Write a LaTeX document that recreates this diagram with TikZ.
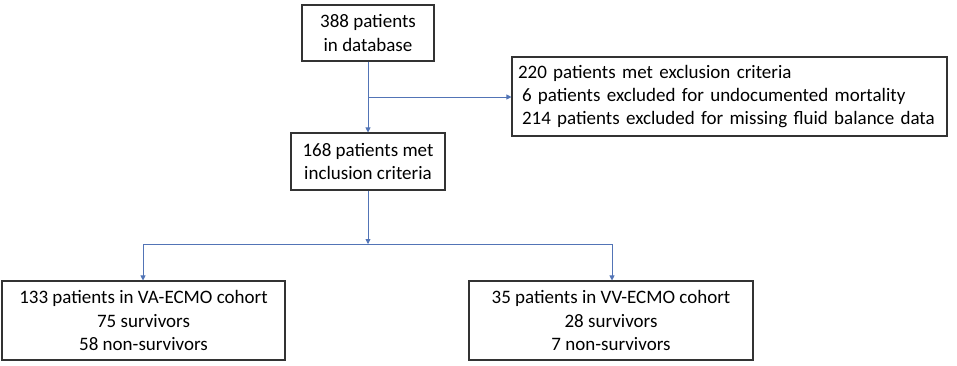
\documentclass[tikz,border=0pt]{standalone}
\usepackage{fontspec}
\setmainfont{Carlito}
\usetikzlibrary{arrows.meta}
\definecolor{lineblue}{HTML}{4A72C0}
\begin{document}
\begin{tikzpicture}[x=1pt,y=-1pt,
  box/.style={draw=black!80,line width=1.1pt,fill=white,inner sep=0pt,font=\fontsize{19}{23.3}\selectfont},
  conn/.style={draw=lineblue!85!gray,line width=0.8pt},
  arr/.style={conn,-{Triangle[width=5pt,length=5pt]}}]
\useasboundingbox (0,0) rectangle (957,365);
\node[box,minimum width=132pt,minimum height=56pt,align=center] (db) at (368,33) {388 patients\\in database};
\node[box,minimum width=435pt,minimum height=79pt,align=left,text width=423pt] (ex) at (729.5,96.5) {220 patients met exclusion criteria\\\hspace*{4pt}6 patients excluded for undocumented mortality\\\hspace*{4pt}214 patients excluded for missing fluid balance data};
\node[box,minimum width=154pt,minimum height=57pt,align=center] (inc) at (368,161.5) {168 patients met\\inclusion criteria};
\node[box,minimum width=283pt,minimum height=79pt,align=center] (va) at (143.5,320.5) {133 patients in VA-ECMO cohort\\75 survivors\\58 non-survivors};
\node[box,minimum width=284pt,minimum height=79pt,align=center] (vv) at (611,320.5) {35 patients in VV-ECMO cohort\\28 survivors\\7 non-survivors};
\coordinate (j1) at (368,97);
\coordinate (j2) at (368,244);
\coordinate (jl) at (143,244);
\coordinate (jr) at (612,244);
\draw[arr] (db.south) -- (inc.north);
\draw[arr] (j1) -- (ex.west |- j1);
\draw[arr] (inc.south) -- (j2);
\draw[conn] (jl) -- (jr);
\draw[arr] (jl) -- (jl |- va.north);
\draw[arr] (jr) -- (jr |- vv.north);
\end{tikzpicture}
\end{document}
